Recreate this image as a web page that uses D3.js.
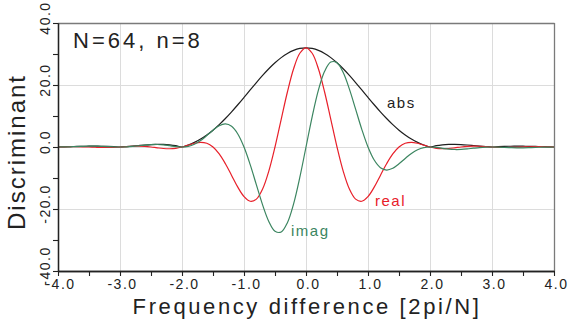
<!DOCTYPE html>
<html><head><meta charset="utf-8">
<script src="https://cdn.jsdelivr.net/npm/d3@7"></script>
<style>body{margin:0;background:#fff} svg{display:block;font-family:"Liberation Sans",Arial,sans-serif}</style>
</head><body><svg id="c" width="568" height="328"></svg>
<script>
const freq = [-4.0,-3.9,-3.8,-3.7,-3.6,-3.5,-3.4,-3.3,-3.2,-3.1,-3.0,-2.9,-2.8,-2.7,-2.6,-2.5,-2.4,-2.3,-2.2,-2.1,-2.0,-1.9,-1.8,-1.7,-1.6,-1.5,-1.4,-1.3,-1.2,-1.1,-1.0,-0.9,-0.8,-0.7,-0.6,-0.5,-0.4,-0.3,-0.2,-0.1,0.0,0.1,0.2,0.3,0.4,0.5,0.6,0.7,0.8,0.9,1.0,1.1,1.2,1.3,1.4,1.5,1.6,1.7,1.8,1.9,2.0,2.1,2.2,2.3,2.4,2.5,2.6,2.7,2.8,2.9,3.0,3.1,3.2,3.3,3.4,3.5,3.6,3.7,3.8,3.9,4.0];
const absVals = [0,0.06,0.12,0.18,0.23,0.26,0.27,0.25,0.20,0.12,0,0.15,0.31,0.49,0.65,0.78,0.85,0.84,0.71,0.44,0,0.64,1.49,2.56,3.88,5.43,7.21,9.19,11.34,13.63,16.00,18.41,20.79,23.08,25.23,27.16,28.83,30.19,31.18,31.79,32.00,31.79,31.18,30.19,28.83,27.16,25.23,23.08,20.79,18.41,16.00,13.63,11.34,9.19,7.21,5.43,3.88,2.56,1.49,0.64,0,0.44,0.71,0.84,0.85,0.78,0.65,0.49,0.31,0.15,0,0.12,0.20,0.25,0.27,0.26,0.23,0.18,0.12,0.06,0];
const realVals = [0,0.05,0.10,0.10,0.07,0,-0.08,-0.15,-0.16,-0.11,0,0.14,0.25,0.29,0.20,0,-0.26,-0.49,-0.57,-0.42,0,0.60,1.20,1.51,1.20,0,-2.23,-5.40,-9.17,-12.96,-16.00,-17.51,-16.82,-13.57,-7.80,0,8.91,17.74,25.23,30.24,32.00,30.24,25.23,17.74,8.91,0,-7.80,-13.57,-16.82,-17.51,-16.00,-12.96,-9.17,-5.40,-2.23,0,1.20,1.51,1.20,0.60,0,-0.42,-0.57,-0.49,-0.26,0,0.20,0.29,0.25,0.14,0,-0.11,-0.16,-0.15,-0.08,0,0.07,0.10,0.10,0.05,0];
const imagVals = [0,0.02,0.07,0.14,0.21,0.26,0.26,0.20,0.12,0.04,0,0.05,0.18,0.39,0.62,0.78,0.81,0.68,0.42,0.14,0,0.20,0.87,2.07,3.69,5.43,6.86,7.43,6.67,4.21,0,-5.69,-12.22,-18.67,-24.00,-27.16,-27.42,-24.42,-18.33,-9.82,0,9.82,18.33,24.42,27.42,27.16,24.00,18.67,12.22,5.69,0,-4.21,-6.67,-7.43,-6.86,-5.43,-3.69,-2.07,-0.87,-0.20,0,-0.14,-0.42,-0.68,-0.81,-0.78,-0.62,-0.39,-0.18,-0.05,0,-0.04,-0.12,-0.20,-0.26,-0.26,-0.21,-0.14,-0.07,-0.02,0];
const xTicks = [-4,-3,-2,-1,0,1,2,3,4];
const xTickLabels = ["-4.0","-3.0","-2.0","-1.0","0.0","1.0","2.0","3.0","4.0"];
const xMinor = [-3.5,-2.5,-1.5,-0.5,0.5,1.5,2.5,3.5];
const yTicks = [-40,-20,0,20,40];
const yTickLabels = ["-40.0","-20.0","0.0","20.0","40.0"];
const yMinor = [-30,-10,10,30];
const seriesNames = ["abs","real","imag"];
const seriesColors = ["#1e1e1e","#e8202a","#3b8560"];
const titleText = "N=64, n=8";
const xTitle = "Frequency difference [2pi/N]";
const yTitle = "Discriminant";

const svg = d3.select("#c");
const L=58,R=554,T=23,B=271;
const x = d3.scaleLinear().domain([-4,4]).range([L,R]);
const y = d3.scaleLinear().domain([-40,40]).range([B,T]);

// grid
const g = svg.append("g");
g.selectAll(".vg").data(xTicks.slice(1,-1)).join("line")
  .attr("x1",d=>x(d)+0.5).attr("x2",d=>x(d)+0.5).attr("y1",T).attr("y2",B)
  .attr("stroke","#dcdcdc").attr("stroke-width",1);
g.selectAll(".hg").data(yTicks.slice(1,-1)).join("line")
  .attr("x1",L).attr("x2",R).attr("y1",d=>y(d)+0.5).attr("y2",d=>y(d)+0.5)
  .attr("stroke","#dcdcdc").attr("stroke-width",1);

// frame top/right
svg.append("line").attr("x1",L).attr("x2",R+0.5).attr("y1",T+0.5).attr("y2",T+0.5).attr("stroke","#7a7a7a").attr("stroke-width",1.3);
svg.append("line").attr("x1",R+0.5).attr("x2",R+0.5).attr("y1",T).attr("y2",B).attr("stroke","#7a7a7a").attr("stroke-width",1.3);

// curves
const series = [absVals, realVals, imagVals];
const line = d3.line().x((d,i)=>x(freq[i])).y(d=>y(d)).curve(d3.curveCatmullRom.alpha(0.5));
series.forEach((vals,k)=>{
  svg.append("path").datum(vals).attr("d",line).attr("fill","none")
    .attr("stroke",seriesColors[k]).attr("stroke-width",1.2);
});

// axes
const xAxis = svg.append("g").attr("transform",`translate(0,${B})`)
  .call(d3.axisBottom(x).tickValues(xTicks).tickFormat((d,i)=>xTickLabels[i]).tickSize(5).tickSizeOuter(0));
const xMin = svg.append("g").attr("transform",`translate(0,${B})`)
  .call(d3.axisBottom(x).tickValues(xMinor).tickFormat("").tickSize(5).tickSizeOuter(0));
const yAxis = svg.append("g").attr("transform",`translate(${L},0)`)
  .call(d3.axisLeft(y).tickValues(yTicks).tickFormat("").tickSize(5).tickSizeOuter(0));
const yMin = svg.append("g").attr("transform",`translate(${L},0)`)
  .call(d3.axisLeft(y).tickValues(yMinor).tickFormat("").tickSize(5).tickSizeOuter(0));
[xAxis,xMin,yAxis,yMin].forEach(a=>{
  a.selectAll("path").attr("stroke","#222").attr("stroke-width",1.3);
  a.selectAll("line").attr("stroke","#222").attr("stroke-width",1.1);
});
xAxis.selectAll("text").attr("font-size",14).attr("fill","#222")
  .attr("letter-spacing","1.5px").attr("dy","0.71em").attr("dx","2")
  .style("font-family",'"Liberation Sans",Arial,sans-serif');

yAxis.selectAll(".ylab").data(yTicks).join("text")
  .attr("transform",d=>`translate(-8,${y(d)-5}) rotate(-90)`)
  .attr("text-anchor","middle").attr("font-size",14).attr("fill","#222")
  .attr("letter-spacing","1.5px")
  .text((d,i)=>yTickLabels[i]);

// titles
svg.append("text").attr("x",307).attr("y",314).attr("text-anchor","middle")
  .attr("font-size",22).attr("letter-spacing","2.6px").attr("fill","#222").text(xTitle);
svg.append("text").attr("transform","translate(25,152) rotate(-90)").attr("text-anchor","middle")
  .attr("font-size",24).attr("letter-spacing","2px").attr("fill","#222").text(yTitle);
svg.append("text").attr("x",73).attr("y",48).attr("font-size",22)
  .attr("letter-spacing","3px").attr("fill","#222").text(titleText);

// series labels
const labelPos = [[387,108],[375,206],[291,236]];
seriesNames.forEach((n,k)=>{
  svg.append("text").attr("x",labelPos[k][0]).attr("y",labelPos[k][1])
    .attr("font-size",15).attr("letter-spacing","1.5px").attr("fill",seriesColors[k]).text(n);
});
</script></body></html>
